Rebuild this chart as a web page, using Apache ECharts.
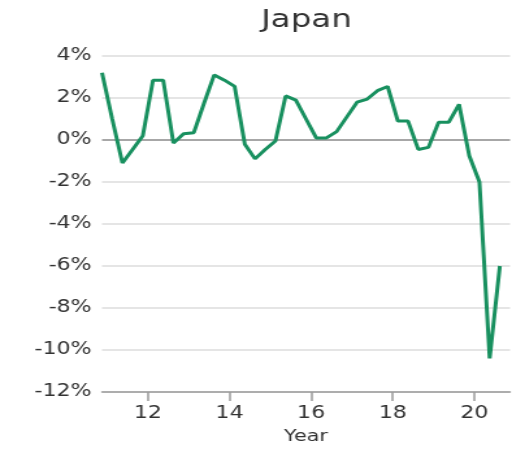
<!DOCTYPE html>
<html>
<head>
<meta charset="utf-8">
<script src="https://cdn.jsdelivr.net/npm/echarts@6/dist/echarts.min.js"></script>
<style>
html,body{margin:0;padding:0;background:#fff;}
#wrap{width:512px;height:450px;overflow:hidden;}
#chart{width:394px;height:450px;transform:scaleX(1.2995);transform-origin:0 0;}
</style>
</head>
<body>
<div id="wrap"><div id="chart"></div></div>
<script>
// Quarter positions (year, two-digit) and GDP growth (%)
var quarters = [10.875, 11.125, 11.375, 11.625, 11.875, 12.125, 12.375, 12.625, 12.875, 13.125,
                13.375, 13.625, 13.875, 14.125, 14.375, 14.625, 14.875, 15.125, 15.375, 15.625,
                15.875, 16.125, 16.375, 16.625, 16.875, 17.125, 17.375, 17.625, 17.875, 18.125,
                18.375, 18.625, 18.875, 19.125, 19.375, 19.625, 19.875, 20.125, 20.375, 20.625];
var growth = [3.2, 1.0, -1.1, -0.45, 0.2, 2.85, 2.85, -0.15, 0.3, 0.35,
              1.75, 3.1, 2.85, 2.55, -0.2, -0.9, -0.45, -0.05, 2.1, 1.9,
              1.0, 0.1, 0.1, 0.4, 1.1, 1.8, 1.95, 2.35, 2.55, 0.9,
              0.9, -0.45, -0.35, 0.85, 0.85, 1.7, -0.75, -2.0, -10.4, -6.0];
var xTicks = [12, 14, 16, 18, 20];
var title = 'Japan';
var xName = 'Year';

var pts = quarters.map(function (q, i) { return [q, growth[i]]; });
var splitColors = ['#dcdcdc','#dcdcdc','#dcdcdc','#dcdcdc','#dcdcdc','#dcdcdc','#8a8a8a','#dcdcdc','#dcdcdc'];
var font = 'DejaVu Sans';

var chart = echarts.init(document.getElementById('chart'), null, {renderer: 'canvas'});
chart.setOption({
  animation: false,
  title: {
    text: title, left: 196, top: 3,
    textStyle: {fontFamily: font, fontSize: 25, fontWeight: 'normal', color: '#333'}
  },
  grid: {left: 78.5, right: 1.5, top: 56, bottom: 58, containLabel: false},
  xAxis: {
    type: 'value', min: 10.875, max: 20.875,
    name: xName, nameLocation: 'middle', nameGap: 37,
    nameTextStyle: {fontFamily: font, fontSize: 16, color: '#333'},
    axisLine: {show: true, onZero: false, lineStyle: {color: '#9a9a9a', width: 1.5}},
    axisTick: {show: true, length: 9, customValues: xTicks, lineStyle: {color: '#9a9a9a', width: 1.5}},
    axisLabel: {customValues: xTicks, margin: 13, fontFamily: font, fontSize: 17, color: '#333'},
    splitLine: {show: false}
  },
  yAxis: {
    type: 'value', min: -12, max: 4, interval: 2,
    axisLine: {show: false}, axisTick: {show: false},
    axisLabel: {margin: 8, fontFamily: font, fontSize: 17, color: '#333',
      formatter: function (v) { return v + '%'; }},
    splitLine: {show: true, lineStyle: {color: splitColors, width: 1.6}}
  },
  series: [{
    type: 'line', data: pts, showSymbol: false, symbol: 'none',
    lineStyle: {color: '#18905f', width: 3}, itemStyle: {color: '#18905f'}
  }]
});
</script>
</body>
</html>
